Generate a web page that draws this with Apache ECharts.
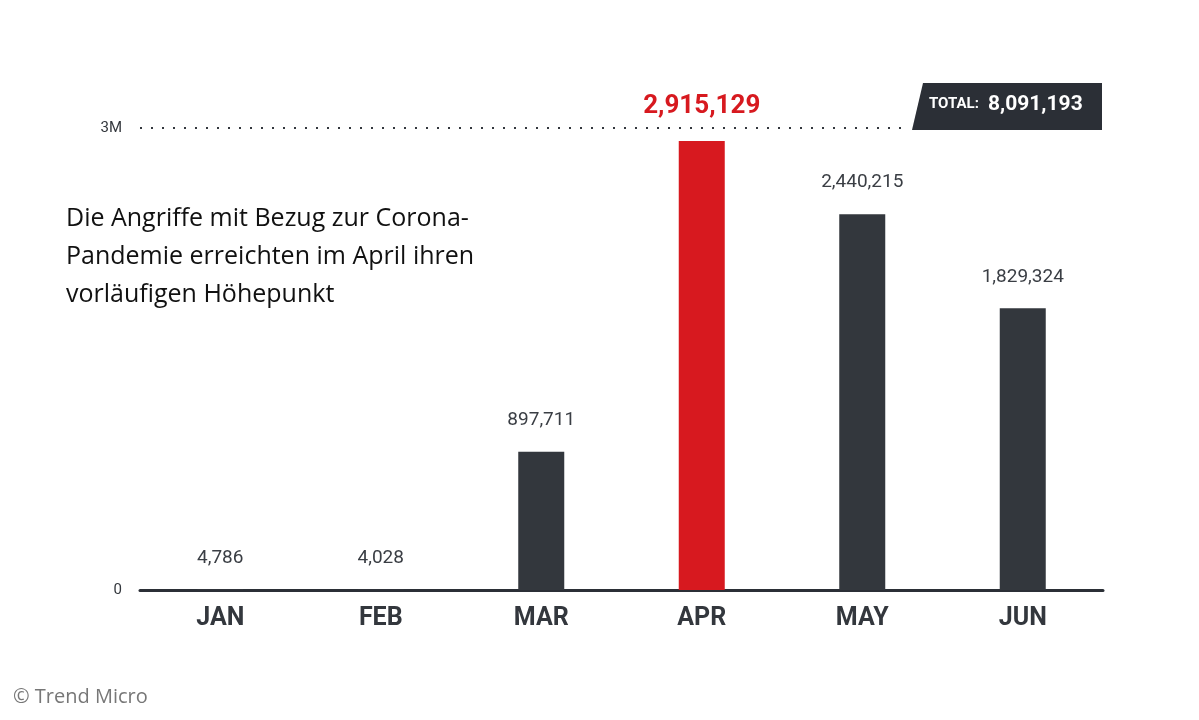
<!DOCTYPE html>
<html><head><meta charset="utf-8">
<script src="https://cdn.jsdelivr.net/npm/echarts@6/dist/echarts.min.js"></script>
<style>html,body{margin:0;background:#fff}#c{width:1199px;height:720px}</style>
</head><body><div id="c"></div>
<script>
const categories = ['JAN','FEB','MAR','APR','MAY','JUN'];
const values = [4786, 4028, 897711, 2915129, 2440215, 1829324];
const yTicks = {0:'0', 3000000:'3M'};
const totalText = '8,091,193';
const highlightIndex = 3;
const fmt = v => v.toLocaleString('en-US');
const chart = echarts.init(document.getElementById('c'));
chart.setOption({
  animation:false,
  grid:{left:140,right:96,top:128,bottom:130},
  xAxis:{type:'category',data:categories,
    axisLine:{lineStyle:{color:'#2b2f36',width:3}},axisTick:{show:false},
    axisLabel:{color:'#33373d',fontSize:25,fontWeight:'bold',fontFamily:'Roboto',margin:16}},
  yAxis:{type:'value',min:0,max:3000000,interval:3000000,
    axisLabel:{formatter:v=>yTicks[v]||'',color:'#33373d',fontSize:15,fontFamily:'Roboto',margin:18},
    splitLine:{lineStyle:{type:[2,9],color:'#33373d',width:2}}},
  series:[{type:'bar',barWidth:46,
    data:values.map((v,i)=>({value:v,itemStyle:{color:i===highlightIndex?'#d7191f':'#33373d'},
      label:i===highlightIndex?{color:'#d7191f',fontSize:26,fontWeight:'bold',distance:22}:{}})),
    label:{show:true,position:'top',distance:22,formatter:p=>fmt(p.value),color:'#3a3e44',fontSize:19,fontFamily:'Roboto'}}],
  graphic:[
    {type:'rect',shape:{x:905,y:122,width:200,height:10},style:{fill:'#fff'},z:100},
    {type:'polygon',shape:{points:[[912,130],[923,83],[1102,83],[1102,130]]},style:{fill:'#2b2f36'},z:101},
    {type:'text',left:929,top:97,z:102,style:{text:'TOTAL: ',fill:'#fff',font:'bold 15px Roboto'}},
    {type:'text',left:988,top:94,z:102,style:{text:totalText,fill:'#fff',font:'bold 21px Roboto'}},
    {type:'text',left:66,top:200,z:102,style:{text:'Die Angriffe mit Bezug zur Corona-\nPandemie erreichten im April ihren\nvorläufigen Höhepunkt',fill:'#111',font:'25px "Open Sans"',lineHeight:38}},
    {type:'text',left:12,top:686,z:102,style:{text:'© Trend Micro',fill:'#777',stroke:'#fff',lineWidth:2,font:'20px "Open Sans"'}}
  ]
});
</script></body></html>
